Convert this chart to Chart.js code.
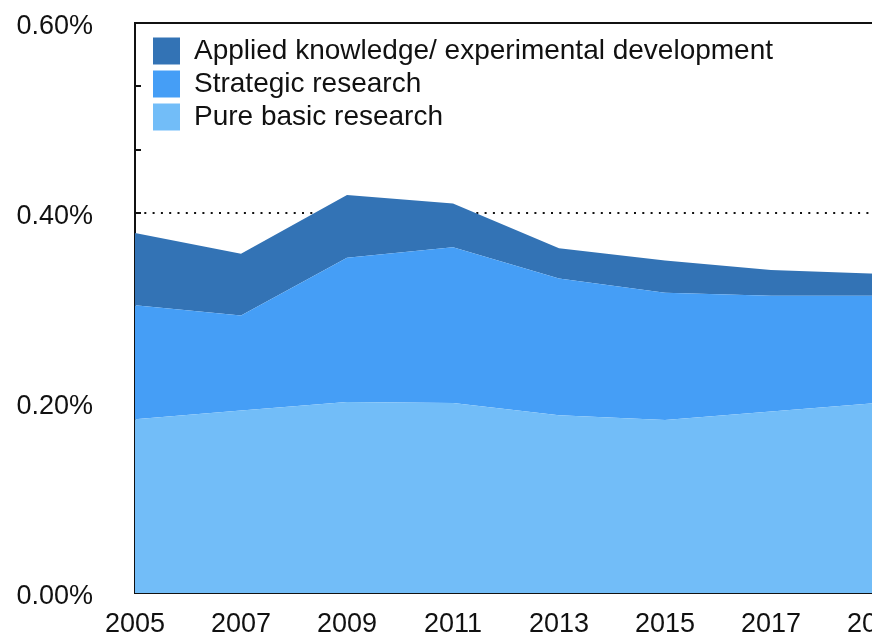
<!DOCTYPE html>
<html>
<head>
<meta charset="utf-8">
<script src="https://cdn.jsdelivr.net/npm/chart.js@4/dist/chart.umd.min.js"></script>
<style>
  html, body { margin: 0; padding: 0; background: #fff; overflow: hidden; }
</style>
</head>
<body>
<canvas id="rdChart" width="927" height="635"></canvas>
<script>
// years shown on the x axis
var years = ['2005', '2007', '2009', '2011', '2013', '2015', '2017', '2019'];

// share of GDP, in percent (stacked, bottom to top)
var pureBasic = [0.183, 0.192, 0.201, 0.200, 0.187, 0.182, 0.191, 0.200];
var strategic = [0.120, 0.100, 0.152, 0.164, 0.144, 0.134, 0.122, 0.113];
var applied   = [0.076, 0.065, 0.066, 0.046, 0.032, 0.034, 0.027, 0.023];

// y axis labels every 0.2, small tick marks in between
var yLabelled = [0, 0.2, 0.4, 0.6];
var yMinorPerStep = 3;
var dottedAt = 0.4;

function near(a, b) { return Math.abs(a - b) < 1e-6; }
function isLabelled(v) {
  return yLabelled.some(function (m) { return near(m, v); });
}

// legend sits inside the plot frame, top left
var legendNudge = {
  id: 'legendNudge',
  afterLayout: function (chart) {
    var lg = chart.legend, area = chart.chartArea;
    var h = lg.bottom - lg.top, w = lg.right - lg.left;
    lg.left = area.left + 13; lg.right = lg.left + w;
    lg.top = area.top + 9; lg.bottom = lg.top + h;
  }
};

var ctx = document.getElementById('rdChart').getContext('2d');
var rdChart = new Chart(ctx, {
  type: 'line',
  data: {
    labels: years,
    datasets: [{
      label: 'Pure basic research',
      data: pureBasic,
      backgroundColor: '#72bdf8',
      borderColor: '#72bdf8',
      fill: 'origin'
    }, {
      label: 'Strategic research',
      data: strategic,
      backgroundColor: '#459ef6',
      borderColor: '#459ef6',
      fill: '-1'
    }, {
      label: 'Applied knowledge/ experimental development',
      data: applied,
      backgroundColor: '#3373b5',
      borderColor: '#3373b5',
      fill: '-1'
    }]
  },
  options: {
    responsive: false,
    animation: false,
    devicePixelRatio: 1,
    elements: {
      line: { borderWidth: 0, tension: 0 },
      point: { radius: 0 }
    },
    layout: { padding: { left: 14, top: 23, right: 50, bottom: 0 } },
    plugins: {
      tooltip: { enabled: false },
      legend: {
        position: 'chartArea',
        fullSize: false,
        align: 'start',
        reverse: true,
        labels: {
          boxWidth: 27,
          boxHeight: 27,
          padding: 5,
          color: '#111',
          font: { family: '"Liberation Sans", Arial, sans-serif', size: 28 }
        }
      }
    },
    scales: {
      x: {
        offset: false,
        grid: { display: false, drawTicks: false },
        border: { display: true, color: '#111', width: 2 },
        ticks: {
          color: '#111',
          padding: 15,
          maxRotation: 0,
          autoSkip: false,
          font: { family: '"Liberation Sans", Arial, sans-serif', size: 27 }
        },
        afterFit: function (scale) { scale.height = 42; }
      },
      y: {
        stacked: true,
        min: 0,
        max: 0.6,
        afterBuildTicks: function (scale) {
          var ticks = [];
          for (var i = 0; i < yLabelled.length - 1; i++) {
            for (var k = 0; k < yMinorPerStep; k++) {
              ticks.push({ value: yLabelled[i] + (yLabelled[i + 1] - yLabelled[i]) * k / yMinorPerStep });
            }
          }
          ticks.push({ value: yLabelled[yLabelled.length - 1] });
          scale.ticks = ticks;
        },
        afterFit: function (scale) {
          scale.width = 121;
          scale.paddingTop = 0;
          scale.paddingBottom = 0;
        },
        grid: {
          drawTicks: true,
          tickLength: -6,
          tickWidth: 2,
          tickColor: '#111',
          lineWidth: 2,
          color: function (c) {
            var v = c.tick ? c.tick.value : 0;
            if (near(v, dottedAt) || near(v, 0.6)) return '#111';
            return 'rgba(0,0,0,0)';
          }
        },
        border: {
          display: true,
          color: '#111',
          width: 2,
          dash: function (c) {
            var v = c.tick ? c.tick.value : 0;
            return near(v, 0.6) ? [] : [2, 6.3];
          }
        },
        ticks: {
          color: '#111',
          padding: 48,
          labelOffset: 4,
          font: { family: '"Liberation Sans", Arial, sans-serif', size: 27 },
          callback: function (v) {
            return isLabelled(v) ? v.toFixed(2) + '%' : '';
          }
        }
      }
    }
  },
  plugins: [legendNudge]
});
</script>
</body>
</html>
